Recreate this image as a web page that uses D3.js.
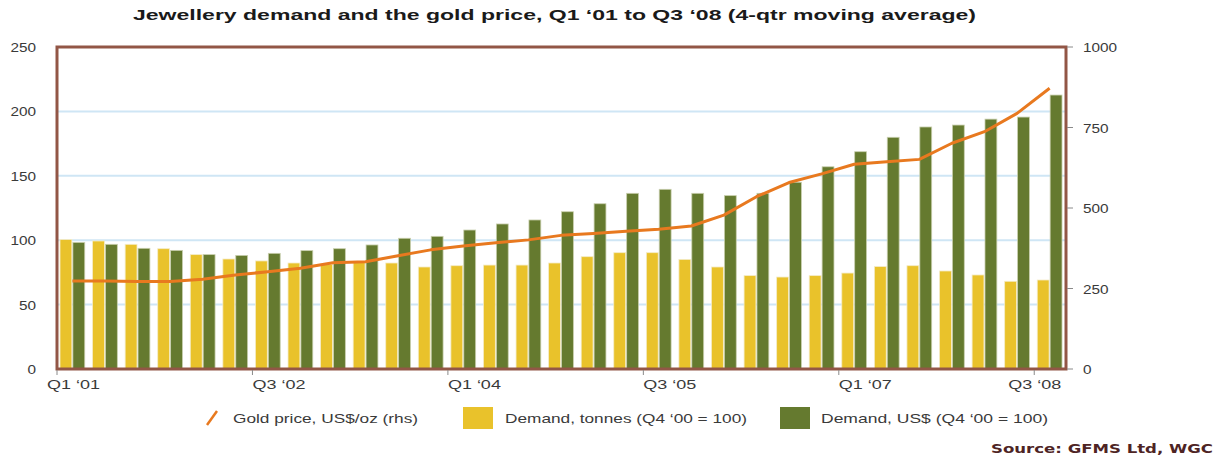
<!DOCTYPE html>
<html>
<head>
<meta charset="utf-8">
<script src="https://cdn.jsdelivr.net/npm/d3@7"></script>
<style>
  body { margin: 0; background: #fff; }
</style>
</head>
<body>
<div id="chart"></div>
<script>
// quarters Q1 '01 .. Q3 '08
const quarters = ["Q1 ‘01","Q2 ‘01","Q3 ‘01","Q4 ‘01","Q1 ‘02","Q2 ‘02","Q3 ‘02","Q4 ‘02",
  "Q1 ‘03","Q2 ‘03","Q3 ‘03","Q4 ‘03","Q1 ‘04","Q2 ‘04","Q3 ‘04","Q4 ‘04",
  "Q1 ‘05","Q2 ‘05","Q3 ‘05","Q4 ‘05","Q1 ‘06","Q2 ‘06","Q3 ‘06","Q4 ‘06",
  "Q1 ‘07","Q2 ‘07","Q3 ‘07","Q4 ‘07","Q1 ‘08","Q2 ‘08","Q3 ‘08"];
const tickQuarters = ["Q1 ‘01","Q3 ‘02","Q1 ‘04","Q3 ‘05","Q1 ‘07","Q3 ‘08"];

// Demand, tonnes (Q4 '00 = 100)
const demandTonnes = [100.5,99.4,96.8,93.4,88.8,85.4,83.9,82.3,81.3,83,82.3,79.2,80.2,80.7,80.7,82.3,
  87.2,90.3,90.3,85.1,79.2,72.5,71.4,72.5,74.5,79.5,80.2,76.1,73,68.1,69.1];
// Demand, US$ (Q4 '00 = 100)
const demandUSD = [98.3,96.8,93.7,92.1,88.8,88.2,89.8,91.9,93.4,96.3,101.5,103,107.9,112.6,115.7,122.1,
  128.3,136.4,139.5,136.4,134.6,136.4,145,157,168.7,179.9,187.9,189.4,194,195.6,212.7];
// Gold price, US$/oz (rhs)
const goldPrice = [273,273,272,272,279,292,302,313,330,333,352,370,382,392,401,415,
  421,428,434,444,478,535,579,606,636,644,651,701,737,794,872];

const leftTicks = [0,50,100,150,200,250];
const rightTicks = [0,250,500,750,1000];

const W = 1225, H = 461;
const plotL = 57, plotR = 1066, plotT = 47, plotB = 369;

const colYellow = "#e9c22b", colGreen = "#657a2f", colOrange = "#e8791f",
      colFrame = "#925646", colGrid = "#cfe6f5", colText = "#3a3a3a";

const svg = d3.select("#chart").append("svg")
  .attr("width", W).attr("height", H)
  .style("font-family", "Arial, 'Liberation Sans', sans-serif");

const x0 = d3.scaleBand().domain(quarters).range([plotL, plotR - 1])
  .paddingInner(0.24).paddingOuter(0.092);
const x1 = d3.scaleBand().domain(["tonnes","usd"]).range([0, x0.bandwidth()]).paddingInner(0.08);
const yL = d3.scaleLinear().domain([0,250]).range([plotB, plotT]);
const yR = d3.scaleLinear().domain([0,1000]).range([plotB, plotT]);
const cellStart = q => x0(q) - x0.step() * x0.paddingOuter();

// gridlines
svg.append("g").selectAll("line")
  .data(leftTicks.filter(d => d > 0 && d < 250))
  .join("line")
  .attr("x1", plotL).attr("x2", plotR)
  .attr("y1", d => yL(d)).attr("y2", d => yL(d))
  .attr("stroke", colGrid).attr("stroke-width", 2);

// bars
const groups = svg.append("g").selectAll("g")
  .data(quarters)
  .join("g")
  .attr("transform", q => `translate(${x0(q)},0)`);

groups.append("rect")
  .attr("x", x1("tonnes")).attr("width", x1.bandwidth())
  .attr("y", (q, i) => yL(demandTonnes[i]))
  .attr("height", (q, i) => yL(0) - yL(demandTonnes[i]))
  .attr("fill", colYellow).attr("stroke", "#f4ecc8").attr("stroke-width", 0.8);

groups.append("rect")
  .attr("x", x1("usd")).attr("width", x1.bandwidth())
  .attr("y", (q, i) => yL(demandUSD[i]))
  .attr("height", (q, i) => yL(0) - yL(demandUSD[i]))
  .attr("fill", colGreen).attr("stroke", "#c9cfae").attr("stroke-width", 0.8);

// gold price line
const line = d3.line()
  .x((d, i) => x0(quarters[i]) + x0.bandwidth() / 2)
  .y(d => yR(d));

svg.append("path")
  .datum(goldPrice)
  .attr("d", line)
  .attr("fill", "none")
  .attr("stroke", colOrange)
  .attr("stroke-width", 3)
  .attr("stroke-linejoin", "round");

// frame
svg.append("rect")
  .attr("x", plotL).attr("y", plotT)
  .attr("width", plotR - plotL).attr("height", plotB - plotT)
  .attr("fill", "none").attr("stroke", colFrame).attr("stroke-width", 3);

// left axis labels
svg.append("g").selectAll("text")
  .data(leftTicks)
  .join("text")
  .attr("transform", d => `translate(36,${yL(d) + 5}) scale(1.18,1)`)
  .attr("text-anchor", "end")
  .attr("font-size", 13)
  .attr("fill", colText)
  .text(d => d);

// right axis ticks + labels
svg.append("g").selectAll("line")
  .data(rightTicks)
  .join("line")
  .attr("x1", plotR + 1).attr("x2", plotR + 7)
  .attr("y1", d => yR(d)).attr("y2", d => yR(d))
  .attr("stroke", "#8a8a8a").attr("stroke-width", 1);

svg.append("g").selectAll("text")
  .data(rightTicks)
  .join("text")
  .attr("transform", d => `translate(1083,${yR(d) + 5}) scale(1.18,1)`)
  .attr("font-size", 13)
  .attr("fill", colText)
  .text(d => d);

// x axis ticks + labels
svg.append("g").selectAll("line")
  .data(tickQuarters)
  .join("line")
  .attr("x1", q => cellStart(q)).attr("x2", q => cellStart(q))
  .attr("y1", plotB + 1).attr("y2", plotB + 6)
  .attr("stroke", "#8a8a8a").attr("stroke-width", 1);

const nT = tickQuarters.length;
svg.append("g").selectAll("text")
  .data(tickQuarters)
  .join("text")
  .attr("x", (q, i) => i === 0 ? cellStart(q) - 10 : (i === nT - 1 ? cellStart(q) - 26 : cellStart(q)))
  .attr("y", 389)
  .attr("font-size", 12)
  .attr("fill", colText)
  .attr("textLength", 53).attr("lengthAdjust", "spacingAndGlyphs")
  .text(q => q);

// title
svg.append("text")
  .attr("x", 133).attr("y", 20)
  .attr("font-size", 15).attr("font-weight", "bold")
  .attr("fill", "#1a1a1a")
  .attr("textLength", 843).attr("lengthAdjust", "spacingAndGlyphs")
  .text("Jewellery demand and the gold price, Q1 ‘01 to Q3 ‘08 (4-qtr moving average)");

// legend
const lg = svg.append("g");
lg.append("line")
  .attr("x1", 207).attr("y1", 425).attr("x2", 217).attr("y2", 411)
  .attr("stroke", colOrange).attr("stroke-width", 2.5);
lg.append("text").attr("x", 233).attr("y", 423)
  .attr("font-size", 13).attr("fill", colText)
  .attr("textLength", 185).attr("lengthAdjust", "spacingAndGlyphs")
  .text("Gold price, US$/oz (rhs)");
lg.append("rect").attr("x", 463).attr("y", 407).attr("width", 30).attr("height", 22)
  .attr("fill", colYellow);
lg.append("text").attr("x", 505).attr("y", 423)
  .attr("font-size", 13).attr("fill", colText)
  .attr("textLength", 242).attr("lengthAdjust", "spacingAndGlyphs")
  .text("Demand, tonnes (Q4 ‘00 = 100)");
lg.append("rect").attr("x", 780).attr("y", 407).attr("width", 30).attr("height", 22)
  .attr("fill", colGreen);
lg.append("text").attr("x", 821).attr("y", 423)
  .attr("font-size", 13).attr("fill", colText)
  .attr("textLength", 227).attr("lengthAdjust", "spacingAndGlyphs")
  .text("Demand, US$ (Q4 ‘00 = 100)");

// source
svg.append("text")
  .attr("x", 991).attr("y", 453)
  .attr("font-family", "'DejaVu Sans', Verdana, sans-serif")
  .attr("font-size", 12).attr("font-weight", "bold")
  .attr("fill", "#4e2424")
  .attr("textLength", 222).attr("lengthAdjust", "spacingAndGlyphs")
  .text("Source: GFMS Ltd, WGC");
</script>
</body>
</html>
